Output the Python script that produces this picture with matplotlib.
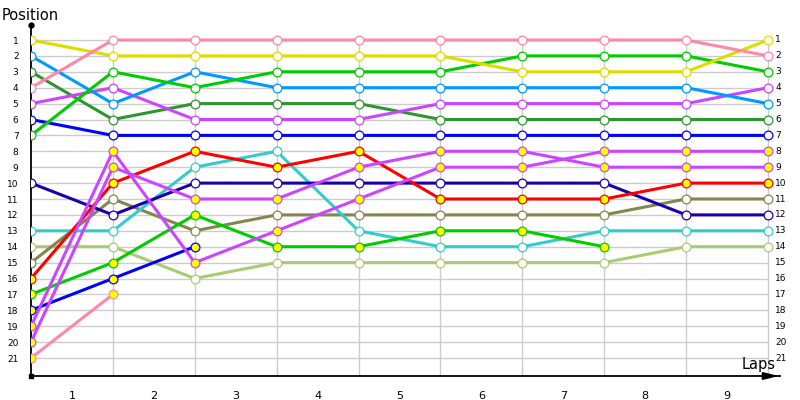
import numpy as np
import matplotlib
matplotlib.use('Agg')
from matplotlib import pyplot as plt
from matplotlib import rcParams
rcParams['font.family'] = 'DejaVu Sans'

laps = list(range(0, 10))
lap_labels = ['1', '2', '3', '4', '5', '6', '7', '8', '9']
positions = list(range(1, 22))

# position of each car at the end of each lap (lap 0 = grid)
pink_a = [4, 1, 1, 1, 1, 1, 1, 1, 1, 2]
yellow = [1, 2, 2, 2, 2, 2, 3, 3, 3, 1]
green_a = [7, 3, 4, 3, 3, 3, 2, 2, 2, 3]
light_blue = [2, 5, 3, 4, 4, 4, 4, 4, 4, 5]
dark_green = [3, 6, 5, 5, 5, 6, 6, 6, 6, 6]
violet_a = [5, 4, 6, 6, 6, 5, 5, 5, 5, 4]
blue_a = [6, 7, 7, 7, 7, 7, 7, 7, 7, 7]
navy = [10, 12, 10, 10, 10, 10, 10, 10, 12, 12]
cyan = [13, 13, 9, 8, 13, 14, 14, 13, 13, 13]
red = [16, 10, 8, 9, 8, 11, 11, 11, 10, 10]
olive = [15, 11, 13, 12, 12, 12, 12, 12, 11, 11]
light_olive = [14, 14, 16, 15, 15, 15, 15, 15, 14, 14]
green_b = [17, 15, 12, 14, 14, 13, 13, 14]
blue_b = [18, 16, 14]
pink_b = [21, 17]
violet_b = [20, 9, 11, 11, 9, 8, 8, 9, 9, 9]
violet_c = [19, 8, 15, 13, 11, 9, 9, 8, 8, 8]

# (positions, line colour, marker fill)
cars = [
    (light_olive, '#aacc70', 'white'),
    (olive, '#858550', 'white'),
    (cyan, '#33cccc', 'white'),
    (navy, '#1a00aa', 'white'),
    (pink_b, '#ff88a8', '#ffff00'),
    (blue_b, '#0000ff', '#ffff00'),
    (green_b, '#00cc00', '#ffff00'),
    (red, '#ff0000', '#ffff00'),
    (violet_c, '#cc44ff', '#ffff00'),
    (violet_b, '#cc44ff', '#ffff00'),
    (blue_a, '#0000ff', 'white'),
    (dark_green, '#2e962e', 'white'),
    (violet_a, '#cc44ff', 'white'),
    (light_blue, '#0099ff', 'white'),
    (green_a, '#00cc00', 'white'),
    (yellow, '#dddd00', 'white'),
    (pink_a, '#ff88a8', 'white'),
]

fig = plt.figure(figsize=(8, 4), dpi=100)
fig.patch.set_facecolor('white')
ax = fig.add_axes([31 / 800, 1 - 376 / 400, (780 - 31) / 800, (376 - 25) / 400])
ax.set_facecolor('white')

step_x = (768 - 31) / 9
step_y = (358 - 40) / 20
ax.set_xlim(0, (780 - 31) / step_x)
ax.set_ylim(1 + (376 - 40) / step_y, 1 - (40 - 25) / step_y)
ymax, ymin = ax.get_ylim()
xmax = ax.get_xlim()[1]

# grid
for p in positions:
    ax.plot([0, 9], [p, p], color='#cccccc', lw=1, zorder=1)
for l in laps[1:]:
    ax.plot([l, l], [0.8, ymax], color='#cccccc', lw=1, zorder=1)

for pos, col, fill in cars:
    ax.plot(laps[:len(pos)], pos, color=col, lw=2.2, zorder=3,
            marker='o', markersize=6.3, markerfacecolor=fill,
            markeredgecolor=col, markeredgewidth=0.9, solid_joinstyle='round')

for s in ['top', 'right']:
    ax.spines[s].set_visible(False)
ax.spines['left'].set_color('black')
ax.spines['bottom'].set_color('black')
ax.spines['left'].set_linewidth(1.3)
ax.spines['bottom'].set_linewidth(1.3)

# axis end decorations
ax.plot([0], [ymin], marker='o', color='black', markersize=3.5, clip_on=False, zorder=5)
ax.plot([0], [ymax], marker='s', color='black', markersize=2.5, clip_on=False, zorder=5)
ax.annotate('', xy=(xmax + 0.02, ymax), xytext=(xmax - 0.2, ymax),
            arrowprops=dict(arrowstyle='-|>,head_length=0.9,head_width=0.22',
                            color='black', lw=1.3),
            annotation_clip=False, zorder=5)

ax.set_yticks(positions)
ax.set_yticklabels([str(p) for p in positions], fontsize=6.5)
ax.tick_params(axis='y', length=0, pad=9)
ax.set_xticks([l + 0.5 for l in laps[:-1]])
ax.set_xticklabels(lap_labels, fontsize=8)
ax.tick_params(axis='x', length=0, pad=11)

for p in positions:
    ax.text(9.09, p, str(p), fontsize=6.5, ha='left', va='center')

fig.text(2 / 800, 1 - 16 / 400, 'Position', fontsize=10.5, ha='left', va='center')
fig.text(776 / 800, 1 - 365 / 400, 'Laps', fontsize=10.5, ha='right', va='center')

fig.savefig('out.png', dpi=100)
